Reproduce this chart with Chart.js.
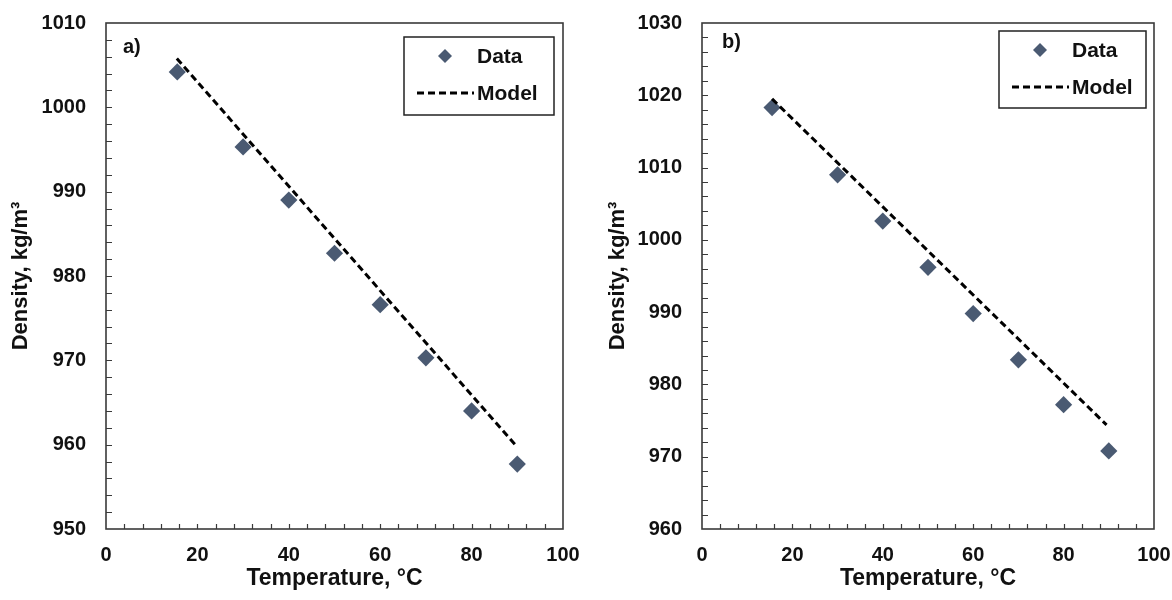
<!DOCTYPE html>
<html>
<head>
<meta charset="utf-8">
<script src="https://cdn.jsdelivr.net/npm/chart.js@4.4.1/dist/chart.umd.min.js"></script>
<style>
  body { margin: 0; background: #fff; }
  #wrap { position: relative; width: 1172px; height: 600px; }
  canvas { position: absolute; top: 0; }
</style>
</head>
<body>
<div id="wrap">
  <canvas id="chartA" width="586" height="600" style="left:0"></canvas>
  <canvas id="chartB" width="586" height="600" style="left:586px"></canvas>
</div>
<script>
// panel a)
const tempA = [15.6, 30, 40, 50, 60, 70, 80, 90];
const densA = [1004.2, 995.3, 989.0, 982.7, 976.6, 970.3, 964.0, 957.7];
const modelTempA = [15.5, 90];
const modelDensA = [1005.8, 959.7];

// panel b)
const tempB = [15.5, 30, 40, 50, 60, 70, 80, 90];
const densB = [1018.3, 1009.0, 1002.6, 996.2, 989.8, 983.4, 977.2, 970.8];
const modelTempB = [15.5, 89.5];
const modelDensB = [1019.5, 974.4];

const xRange = [0, 100];
const yRangeA = [950, 1010];
const yRangeB = [960, 1030];

const FONT = "'Liberation Sans', Arial, sans-serif";
const TXT = '#111';
Chart.defaults.font.family = FONT;
Chart.defaults.color = TXT;

const pts = (xs, ys) => xs.map((x, i) => ({ x: x, y: ys[i] }));

// no extra label overflow padding, the layout padding is enough
function noOverflow(s) {
  s.paddingLeft = 0; s.paddingRight = 0; s.paddingTop = 0; s.paddingBottom = 0;
}

// frame, inward ticks, panel letter and boxed legend
const framePlugin = {
  id: 'frame',
  afterDraw(chart, args, o) {
    const { ctx, chartArea: a, scales: { x, y } } = chart;
    ctx.save();
    ctx.strokeStyle = '#3a3a3a';
    ctx.lineWidth = 1.2;
    ctx.beginPath();
    for (let v = x.min + 4; v < x.max; v += 4) {
      const px = Math.round(x.getPixelForValue(v)) + 0.5;
      ctx.moveTo(px, a.bottom);
      ctx.lineTo(px, a.bottom - 5);
    }
    for (let v = y.min + 2; v < y.max; v += 2) {
      const py = Math.round(y.getPixelForValue(v)) + 0.5;
      ctx.moveTo(a.left, py);
      ctx.lineTo(a.left + 6, py);
    }
    ctx.stroke();
    ctx.lineWidth = 1.6;
    ctx.strokeRect(a.left, a.top, a.width, a.height);

    ctx.fillStyle = TXT;
    ctx.font = 'bold 20px ' + FONT;
    ctx.textBaseline = 'middle';
    ctx.fillText(o.panel, a.left + o.panelDx, a.top + o.panelDy);

    // legend box
    const L = o.legend;
    const bx = a.right - L.right - L.w, by = a.top + L.top;
    ctx.fillStyle = '#fff';
    ctx.fillRect(bx, by, L.w, L.h);
    ctx.strokeStyle = '#222';
    ctx.lineWidth = 1.5;
    ctx.strokeRect(bx, by, L.w, L.h);

    const ds = chart.data.datasets;
    const dataDs = ds.find(d => d.type === 'scatter');
    const modelDs = ds.find(d => d.type === 'line');
    const r1 = by + 19, r2 = by + 56;
    // diamond
    const dx = bx + 41, rr = 7;
    ctx.fillStyle = dataDs.backgroundColor;
    ctx.beginPath();
    ctx.moveTo(dx - rr, r1); ctx.lineTo(dx, r1 - rr); ctx.lineTo(dx + rr, r1); ctx.lineTo(dx, r1 + rr);
    ctx.closePath();
    ctx.fill();
    // dashes
    ctx.strokeStyle = modelDs.borderColor;
    ctx.lineWidth = modelDs.borderWidth;
    ctx.setLineDash(modelDs.borderDash);
    ctx.beginPath();
    ctx.moveTo(bx + 13, r2); ctx.lineTo(bx + 70, r2);
    ctx.stroke();
    ctx.setLineDash([]);

    ctx.fillStyle = TXT;
    ctx.font = 'bold 21px ' + FONT;
    ctx.textAlign = 'left';
    ctx.fillText(dataDs.label, bx + 73, r1 + 1);
    ctx.fillText(modelDs.label, bx + 73, r2 + 1);
    ctx.restore();
  }
};

function makeChart(id, xs, ys, mx, my, yRange, cfg) {
  return new Chart(document.getElementById(id), {
    data: {
      datasets: [
        {
          type: 'line',
          label: 'Model',
          data: pts(mx, my),
          borderColor: '#000',
          borderWidth: 3,
          borderDash: [7, 4],
          pointRadius: 0,
          fill: false
        },
        {
          type: 'scatter',
          label: 'Data',
          data: pts(xs, ys),
          pointStyle: 'rectRot',
          pointRadius: 8.6,
          backgroundColor: '#4a5a72',
          borderWidth: 0
        }
      ]
    },
    options: {
      responsive: false,
      animation: false,
      devicePixelRatio: 1,
      layout: { autoPadding: false, padding: { top: 23, right: cfg.padRight, left: 0, bottom: 0 } },
      scales: {
        x: {
          type: 'linear',
          min: xRange[0],
          max: xRange[1],
          grid: { display: false, drawTicks: false },
          border: { display: false },
          ticks: { stepSize: 20, padding: 14, color: TXT, font: { size: 20, weight: 'bold' }, callback: v => String(v) },
          title: {
            display: true,
            text: 'Temperature, °C',
            color: TXT,
            font: { size: 23, weight: 'bold' },
            padding: { top: 0, bottom: 8 }
          },
          afterFit(s) { s.height = 71; noOverflow(s); }
        },
        y: {
          type: 'linear',
          min: yRange[0],
          max: yRange[1],
          grid: { display: false, drawTicks: false },
          border: { display: false },
          ticks: { stepSize: 10, padding: 20, color: TXT, font: { size: 20, weight: 'bold' }, callback: v => String(v) },
          title: {
            display: true,
            text: 'Density, kg/m³',
            color: TXT,
            font: { size: 22, weight: 'bold' },
            padding: { top: cfg.titlePad, bottom: 0 }
          },
          afterFit(s) { s.width = cfg.yWidth; noOverflow(s); }
        }
      },
      plugins: {
        legend: { display: false },
        tooltip: { enabled: false },
        frame: cfg.frame
      }
    },
    plugins: [framePlugin]
  });
}

makeChart('chartA', tempA, densA, modelTempA, modelDensA, yRangeA, {
  padRight: 23, yWidth: 106, titlePad: 8,
  frame: { panel: 'a)', panelDx: 17, panelDy: 24, legend: { right: 9, top: 14, w: 150, h: 78 } }
});

makeChart('chartB', tempB, densB, modelTempB, modelDensB, yRangeB, {
  padRight: 18, yWidth: 116, titlePad: 19,
  frame: { panel: 'b)', panelDx: 20, panelDy: 19, legend: { right: 8, top: 8, w: 147, h: 77 } }
});
</script>
</body>
</html>
